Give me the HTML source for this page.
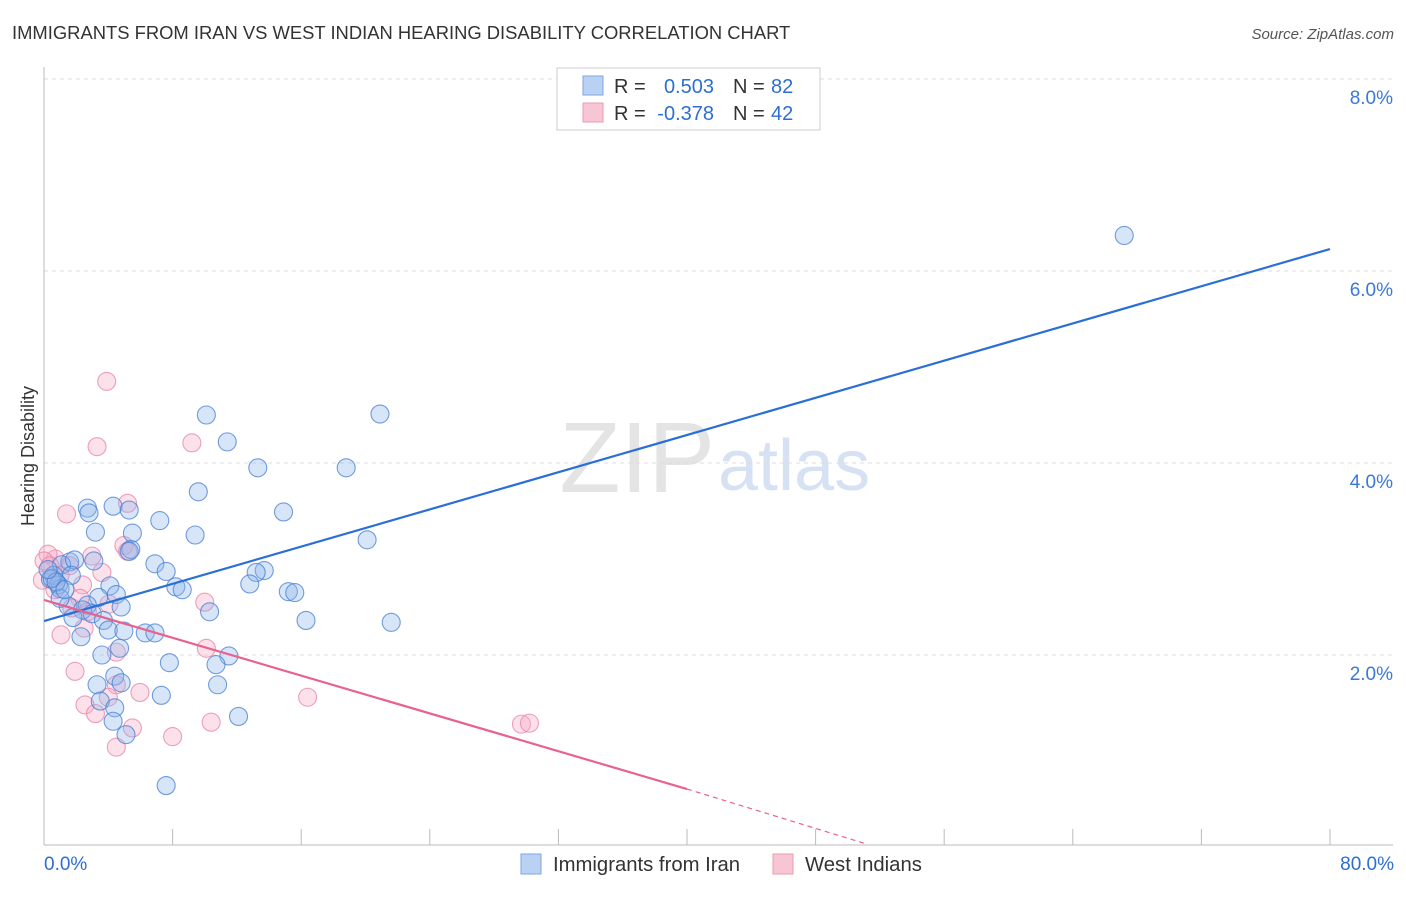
<!DOCTYPE html>
<html><head><meta charset="utf-8"><style>
body{margin:0;background:#fff;font-family:"Liberation Sans",sans-serif}
svg text{font-family:"Liberation Sans",sans-serif}
</style></head><body>
<svg id="c" width="1406" height="892" xmlns="http://www.w3.org/2000/svg">
<text x="12" y="39" font-size="18.4" fill="#333">IMMIGRANTS FROM IRAN VS WEST INDIAN HEARING DISABILITY CORRELATION CHART</text>
<text x="1394" y="39" font-size="15" fill="#555" font-style="italic" text-anchor="end">Source: ZipAtlas.com</text>
<text x="715" y="492" font-size="100" fill="#e4e4e4" font-family="Liberation Serif" text-anchor="end">ZIP</text>
<text x="718" y="490" font-size="72" fill="#d6e2f3">atlas</text>
<text transform="translate(34,456) rotate(-90)" font-size="18" fill="#333" text-anchor="middle">Hearing Disability</text>
<g id="grid"></g><g id="pts"></g><g id="lines"></g>
<g>
<rect x="557" y="68" width="263" height="62" fill="#fff" stroke="#ccc"/>
<rect x="583" y="76" width="20" height="19" fill="#b9d1f3" stroke="#7ea6e0"/>
<rect x="583" y="103" width="20" height="19" fill="#f8c5d5" stroke="#eb9ab4"/>
<text x="614" y="93" font-size="20" fill="#333">R =</text>
<text x="714" y="93" font-size="20" fill="#2d6fd1" text-anchor="end">0.503</text>
<text x="733" y="93" font-size="20" fill="#333">N =</text>
<text x="771" y="93" font-size="20" fill="#2d6fd1">82</text>
<text x="614" y="120" font-size="20" fill="#333">R =</text>
<text x="714" y="120" font-size="20" fill="#2d6fd1" text-anchor="end">-0.378</text>
<text x="733" y="120" font-size="20" fill="#333">N =</text>
<text x="771" y="120" font-size="20" fill="#2d6fd1">42</text>
</g>
<g>
<rect x="521" y="854" width="20" height="20" fill="#b9d1f3" stroke="#7ea6e0"/>
<text x="553" y="871" font-size="20.3" fill="#333">Immigrants from Iran</text>
<rect x="773" y="854" width="20" height="20" fill="#f8c5d5" stroke="#eb9ab4"/>
<text x="805" y="871" font-size="20.3" fill="#333">West Indians</text>
</g>
<text x="44" y="870" font-size="19" fill="#2d6fd1">0.0%</text>
<text x="1394" y="870" font-size="19" fill="#2d6fd1" text-anchor="end">80.0%</text>
</svg>
<script>
const yTicks=[2,4,6,8];
const blueX=[67.2,10.1,20.9,11.4,13.3,18.8,9.6,2.7,4.3,5.3,2.8,14.9,7.2,3.2,5.5,9.4,20.1,5.4,5.3,6.9,7.6,3.1,1.6,1.1,1.9,1.7,13.7,13.2,12.8,4.1,8.2,8.6,15.2,15.6,0.6,0.9,1.0,0.4,3.4,4.5,1.5,2.7,4.8,1.0,10.3,2.4,3.0,1.8,3.7,21.6,16.3,4.0,4.97,2.3,6.3,6.9,3.6,4.7,11.5,10.7,7.8,4.4,4.8,3.3,10.8,7.3,3.5,4.4,12.1,4.3,5.1,7.6,0.5,0.75,0.25,1.3];
const blueY=[6.37,4.5,4.51,4.22,3.95,3.95,3.7,3.53,3.55,3.51,3.48,3.49,3.4,3.28,3.27,3.25,3.2,3.1,3.08,2.95,2.87,2.98,2.97,2.94,2.99,2.83,2.88,2.86,2.74,2.72,2.71,2.68,2.66,2.65,2.83,2.73,2.69,2.79,2.6,2.63,2.51,2.52,2.5,2.59,2.45,2.47,2.43,2.39,2.36,2.34,2.36,2.26,2.25,2.19,2.23,2.23,2.0,2.07,1.99,1.9,1.92,1.78,1.71,1.69,1.69,1.58,1.52,1.45,1.36,1.31,1.17,0.64,2.80,2.76,2.89,2.68];
const pinkX=[3.9,3.3,9.2,5.2,1.4,2.98,4.97,5.2,3.6,10.0,0.7,0.25,1.0,1.6,2.4,2.24,2.7,4.04,1.74,2.5,1.06,4.5,10.1,1.93,4.5,4.0,5.97,16.4,2.55,3.2,10.4,5.5,8.0,4.5,29.7,30.2,0.0,0.37,-0.1,0.68];
const pinkY=[4.85,4.17,4.21,3.58,3.47,3.03,3.14,3.08,2.86,2.55,3.0,3.05,2.83,2.93,2.73,2.59,2.45,2.53,2.49,2.28,2.21,2.03,2.07,1.83,1.69,1.56,1.61,1.56,1.48,1.39,1.3,1.24,1.15,1.04,1.28,1.29,2.98,2.93,2.78,2.68];
const blueLine=[0,2.354,80,6.229];
const pinkLine=[0,2.573,40,0.604,51,0.04];
const X=v=>44+v*(1286/80), Y=v=>847-v*96;
const NS='http://www.w3.org/2000/svg';
function mk(t,a,p){const e=document.createElementNS(NS,t);for(const k in a)e.setAttribute(k,a[k]);p.appendChild(e);return e;}
const grid=document.getElementById('grid');
yTicks.forEach(t=>{
 const l=mk('line',{x1:44,x2:1393,y1:Y(t),y2:Y(t),stroke:'#ddd','stroke-dasharray':'4,4'},grid);
 
 
 const tx=mk('text',{x:1393,y:Y(t)+25,'font-size':19,fill:'#3a78d8','text-anchor':'end'},grid);
 tx.textContent=t.toFixed(1)+'%';
 
 
});
mk('line',{x1:44,x2:44,y1:67,y2:845,stroke:'#bbb'},grid);
mk('line',{x1:44,x2:1393,y1:845,y2:845,stroke:'#bbb'},grid);
for(let i=0;i<=10;i++){mk('line',{x1:X(i*8),x2:X(i*8),y1:829,y2:845,stroke:'#bbb'},grid);}
const pts=document.getElementById('pts');
pinkX.forEach((v,i)=>{const c=mk('circle',{cx:X(v),cy:Y(pinkY[i]),r:9,fill:'rgba(246,170,198,0.35)',stroke:'rgba(232,130,165,0.75)','stroke-width':1.1},pts);
 
 });
blueX.forEach((v,i)=>{const c=mk('circle',{cx:X(v),cy:Y(blueY[i]),r:9,fill:'rgba(140,180,235,0.35)',stroke:'rgba(70,125,210,0.75)','stroke-width':1.1},pts);
 
 });
const ln=document.getElementById('lines');
const b=mk('line',{x1:X(blueLine[0]),y1:Y(blueLine[1]),x2:X(blueLine[2]),y2:Y(blueLine[3]),stroke:'#2a6fd6','stroke-width':2.2},ln);


const p=mk('line',{x1:X(pinkLine[0]),y1:Y(pinkLine[1]),x2:X(pinkLine[2]),y2:Y(pinkLine[3]),stroke:'#e8628f','stroke-width':2.2},ln);


const pd=mk('line',{x1:X(pinkLine[2]),y1:Y(pinkLine[3]),x2:X(pinkLine[4]),y2:Y(pinkLine[5]),stroke:'#e8628f','stroke-width':1.2,'stroke-dasharray':'5,4'},ln);


</script>
</body></html>
